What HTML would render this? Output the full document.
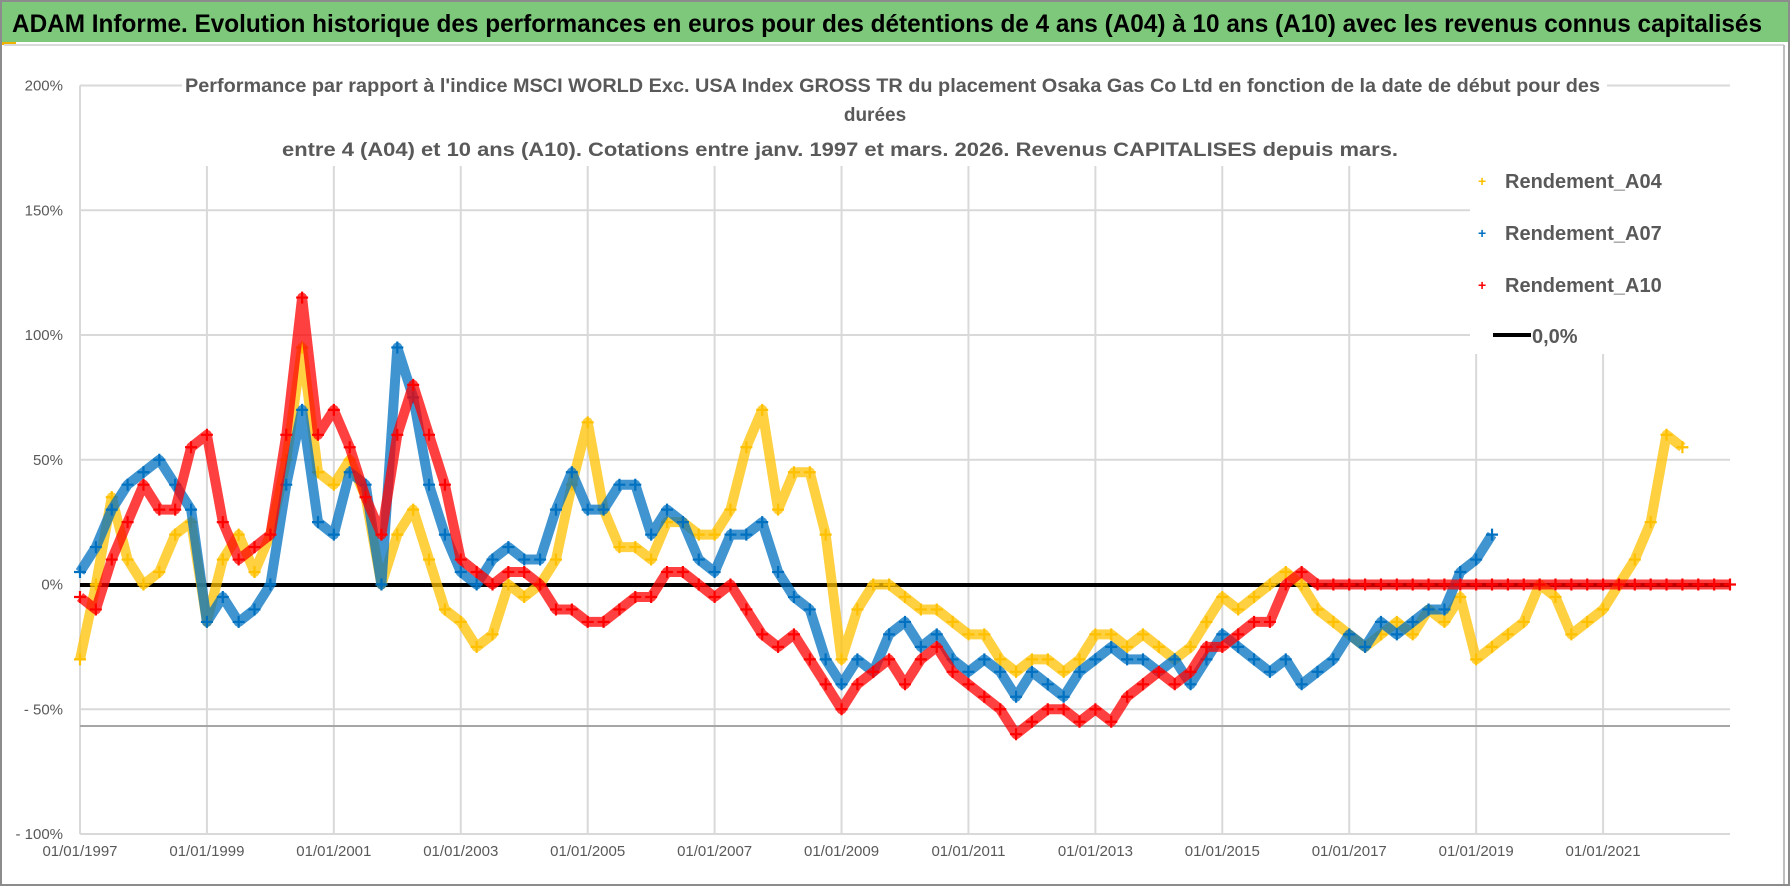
<!DOCTYPE html>
<html><head><meta charset="utf-8">
<style>
html,body{margin:0;padding:0;background:#fff;}
svg{display:block;}
text{font-family:"Liberation Sans",sans-serif;}
</style></head>
<body>
<svg id="chart" width="1790" height="886" viewBox="0 0 1790 886" xmlns="http://www.w3.org/2000/svg">
  <rect x="0" y="0" width="1790" height="886" fill="#fff"/>
  <rect x="1" y="1" width="1788" height="884" fill="none" stroke="#8c8c8c" stroke-width="2"/>
  <rect x="2" y="2" width="1786" height="40" fill="#7ec87c"/>
  <rect x="2" y="42" width="14" height="3" fill="#f0b400"/>
  <text x="12" y="32" font-size="25" font-weight="bold" fill="#000" textLength="1750" lengthAdjust="spacingAndGlyphs">ADAM Informe. Evolution historique des performances en euros pour des détentions de 4 ans (A04) à 10 ans (A10) avec les revenus connus capitalisés</text>
  <line x1="4" y1="45" x2="1784" y2="45" stroke="#d9d9d9" stroke-width="2"/>
  <line x1="1784" y1="45" x2="1784" y2="884" stroke="#bfbfbf" stroke-width="2"/>
  <g id="grid"></g>
  <line x1="80" y1="726" x2="1730" y2="726" stroke="#a6a6a6" stroke-width="2"/>
  <g id="ylabels"></g>
  <g id="xlabels"></g>
  <line id="zero" x1="80" y1="585" x2="1730" y2="585" stroke="#000" stroke-width="4"/>
  <g id="series"></g>
  <rect x="182" y="68" width="1425" height="98" fill="#fff"/>
  <g fill="#595959" font-weight="bold" font-size="19">
    <text x="185" y="92" textLength="1415" lengthAdjust="spacingAndGlyphs">Performance par rapport à l'indice MSCI WORLD Exc. USA Index GROSS TR  du placement Osaka Gas Co Ltd en fonction de la date de début pour des</text>
    <text x="875" y="121" text-anchor="middle">durées</text>
    <text x="282" y="156" textLength="1116" lengthAdjust="spacingAndGlyphs">entre 4 (A04) et 10 ans (A10). Cotations entre janv. 1997 et mars. 2026. Revenus CAPITALISES depuis mars.</text>
  </g>
  <rect x="1470" y="160" width="265" height="194" fill="#fff"/>
  <g font-size="20" font-weight="bold" fill="#595959">
    <g><text x="1478" y="186" fill="#ffc000" font-size="14">+</text><text x="1505" y="188">Rendement_A04</text></g>
    <g><text x="1478" y="238" fill="#0070c0" font-size="14">+</text><text x="1505" y="240">Rendement_A07</text></g>
    <g><text x="1478" y="290" fill="#ff0000" font-size="14">+</text><text x="1505" y="292">Rendement_A10</text></g>
    <g><line x1="1493" y1="335" x2="1531" y2="335" stroke="#000" stroke-width="4"/><text x="1532" y="343">0,0%</text></g>
  </g>
</svg>
<script>
const yTicks = [200, 150, 100, 50, 0, -50, -100];
const yTickLabels = ["200%", "150%", "100%", "50%", "0%", "- 50%", "- 100%"];
const xTickYears = [1997, 1999, 2001, 2003, 2005, 2007, 2009, 2011, 2013, 2015, 2017, 2019, 2021];
const xTickLabels = ["01/01/1997","01/01/1999","01/01/2001","01/01/2003","01/01/2005","01/01/2007","01/01/2009","01/01/2011","01/01/2013","01/01/2015","01/01/2017","01/01/2019","01/01/2021"];
const startYear = 1997;
const step = 0.25;
const rendementA04 = [-30,0,35,10,0,5,20,25,-15,10,20,5,20,50,95,45,40,50,35,0,20,30,10,-10,-15,-25,-20,0,-5,0,10,40,65,30,15,15,10,25,25,20,20,30,55,70,30,45,45,20,-30,-10,0,0,-5,-10,-10,-15,-20,-20,-30,-35,-30,-30,-35,-30,-20,-20,-25,-20,-25,-30,-25,-15,-5,-10,-5,0,5,0,-10,-15,-20,-25,-20,-15,-20,-10,-15,-5,-30,-25,-20,-15,0,-5,-20,-15,-10,0,10,25,60,55];
const rendementA07 = [5,15,30,40,45,50,40,30,-15,-5,-15,-10,0,40,70,25,20,45,40,0,95,75,40,20,5,0,10,15,10,10,30,45,30,30,40,40,20,30,25,10,5,20,20,25,5,-5,-10,-30,-40,-30,-35,-20,-15,-25,-20,-30,-35,-30,-35,-45,-35,-40,-45,-35,-30,-25,-30,-30,-35,-30,-40,-30,-20,-25,-30,-35,-30,-40,-35,-30,-20,-25,-15,-20,-15,-10,-10,5,10,20];
const rendementA10 = [-5,-10,10,25,40,30,30,55,60,25,10,15,20,60,115,60,70,55,35,20,60,80,60,40,10,5,0,5,5,0,-10,-10,-15,-15,-10,-5,-5,5,5,0,-5,0,-10,-20,-25,-20,-30,-40,-50,-40,-35,-30,-40,-30,-25,-35,-40,-45,-50,-60,-55,-50,-50,-55,-50,-55,-45,-40,-35,-40,-35,-25,-25,-20,-15,-15,0,5,0,0,0,0,0,0,0,0,0,0,0,0,0,0,0,0,0,0,0,0,0,0,0,0,0,0,0];

const NS = "http://www.w3.org/2000/svg";
const PL = 80, PR = 1730, PT = 85.5, PB = 834;
const xMin = 1997, xMax = 2023.0, yMin = -100, yMax = 200;
function xs(yr){ return PL + (yr - xMin) / (xMax - xMin) * (PR - PL); }
function ys(v){ return PB - (v - yMin) / (yMax - yMin) * (PB - PT); }
function el(tag, attrs, parent){ const e = document.createElementNS(NS, tag); for (const k in attrs) e.setAttribute(k, attrs[k]); parent.appendChild(e); return e; }

const grid = document.getElementById('grid');
yTicks.forEach(function(t){
  const l = el('line', {x1: PL, x2: PR, y1: ys(t), y2: ys(t), stroke: '#d9d9d9', 'stroke-width': 2}, grid);
  
  
});
xTickYears.forEach(function(yr){
  const l = el('line', {x1: xs(yr), x2: xs(yr), y1: PT, y2: PB, stroke: '#d9d9d9', 'stroke-width': 2}, grid);
  
  
});
const yl = document.getElementById('ylabels');
yTicks.forEach(function(t, i){
  const tx = el('text', {x: 63, y: ys(t) + 5, 'text-anchor': 'end', 'font-size': 15, fill: '#595959'}, yl);
  tx.textContent = yTickLabels[i];
  
  
});
const xl = document.getElementById('xlabels');
xTickYears.forEach(function(yr, i){
  const tx = el('text', {x: xs(yr), y: 856, 'text-anchor': 'middle', 'font-size': 15, fill: '#595959'}, xl);
  tx.textContent = xTickLabels[i];
  
  
});

const ser = document.getElementById('series');
function drawSeries(values, color, name){
  const g = el('g', {}, ser);
  
  
  let pts = values.map(function(v, i){ return xs(startYear + i * step).toFixed(1) + ',' + ys(v).toFixed(1); }).join(' ');
  const pl = el('polyline', {points: pts, fill: 'none', stroke: color, 'stroke-width': 10, 'stroke-opacity': 0.75, 'stroke-linejoin': 'round'}, g);
  
  
  values.forEach(function(v, i){
    const x = xs(startYear + i * step), y = ys(v);
    const p = el('path', {d: 'M' + (x - 6) + ' ' + y + 'H' + (x + 6) + 'M' + x + ' ' + (y - 6) + 'V' + (y + 6), stroke: color, 'stroke-width': 2.2}, g);
    
    
  });
}
drawSeries(rendementA04, '#ffc000', 'series-a04');
drawSeries(rendementA07, '#0070c0', 'series-a07');
drawSeries(rendementA10, '#ff0000', 'series-a10');
</script>
</body></html>
